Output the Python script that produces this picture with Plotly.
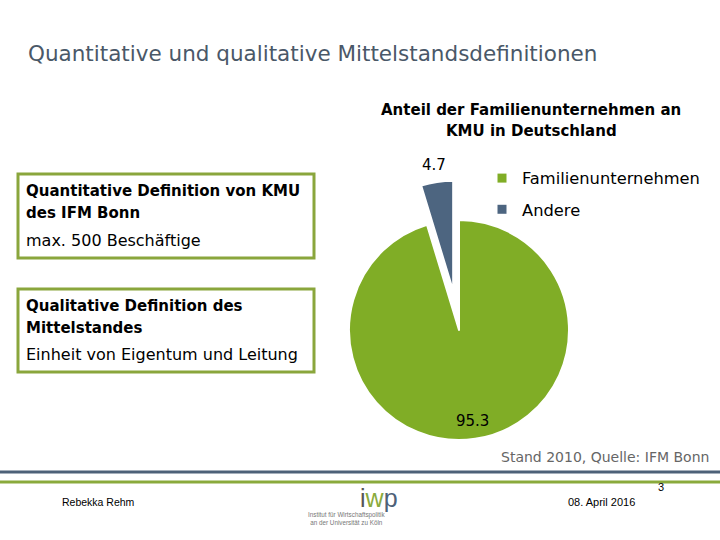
import math
import plotly.graph_objects as go

# Data
categories = ["Familienunternehmen", "Andere"]
values = [95.3, 4.7]
colors = ["#80ad26", "#4d6580"]

W, H = 720, 540

def px(x):
    return x / W

def py(y):
    return 1 - y / H

FONT = "DejaVu Sans"

fig = go.Figure()

# pie geometry: centre (459, 330), radius 110, pull 0.36
pull = 0.36
r = 110
cx, cy = 459, 330
half = r * (1 + pull)
pulls = [0, pull]
fig.add_trace(go.Pie(
    labels=categories,
    values=values,
    sort=False,
    direction="clockwise",
    rotation=0,
    pull=pulls,
    marker=dict(colors=colors, line=dict(color="white", width=2)),
    textinfo="none",
    domain=dict(x=[px(cx - half), px(cx + half)], y=[py(cy + half), py(cy - half)]),
    hoverinfo="label+value",
    showlegend=False,
))

# legend entries (one per category, spaced like the reference)
for i, (cat, col) in enumerate(zip(categories, colors)):
    fig.add_trace(go.Scatter(
        x=[None], y=[None], mode="markers", name=cat,
        marker=dict(symbol="square", size=9, color=col),
        legendgroup=f"g{i}", showlegend=True, hoverinfo="skip",
    ))

fig.update_layout(
    width=W, height=H,
    margin=dict(l=0, r=0, t=0, b=0),
    paper_bgcolor="white",
    plot_bgcolor="white",
    xaxis=dict(visible=False),
    yaxis=dict(visible=False),
    showlegend=True,
    legend=dict(
        x=px(482), y=py(161), xanchor="left", yanchor="top",
        font=dict(family=FONT, size=16.3, color="black"),
        bgcolor="rgba(0,0,0,0)",
        tracegroupgap=7,
        itemwidth=30,
    ),
)

shapes = []
# definition boxes
shapes.append(dict(type="rect", xref="paper", yref="paper",
                   x0=px(18), x1=px(314), y0=py(258), y1=py(174),
                   line=dict(color="#8aa63c", width=3)))
shapes.append(dict(type="rect", xref="paper", yref="paper",
                   x0=px(18), x1=px(314), y0=py(372), y1=py(289),
                   line=dict(color="#8aa63c", width=3)))
# footer lines
shapes.append(dict(type="line", xref="paper", yref="paper",
                   x0=0, x1=1, y0=py(472), y1=py(472),
                   line=dict(color="#4d6178", width=3)))
shapes.append(dict(type="line", xref="paper", yref="paper",
                   x0=0, x1=1, y0=py(482), y1=py(482),
                   line=dict(color="#8aaa3c", width=3)))
fig.update_layout(shapes=shapes)

ann = []
def text(x, y, s, size, color="black", bold=False, anchor="left", yanchor="middle", family=FONT):
    ann.append(dict(x=px(x), y=py(y), xref="paper", yref="paper", text=s,
                    showarrow=False, xanchor=anchor, yanchor=yanchor,
                    font=dict(family=family, size=size, color=color,
                              weight="bold" if bold else "normal")))

# slice value labels, placed from the data (mid-angle of each slice)
total = sum(values)
start = 0.0
label_radius = [0.84 * r, None]
for i, v in enumerate(values):
    frac = v / total
    mid = (start + frac / 2) * 2 * math.pi  # clockwise from 12 o'clock
    start += frac
    rr = label_radius[i] if label_radius[i] is not None else (1 + pulls[i]) * r + 17
    lx = cx + rr * math.sin(mid)
    ly = cy - rr * math.cos(mid)
    text(lx, ly, f"{v}", 15, anchor="center")

text(26, 54, "Quantitative und qualitative Mittelstandsdefinitionen", 21.5, color="#4a5868")
text(531, 110, "Anteil der Familienunternehmen an", 15, bold=True, anchor="center")
text(531, 131, "KMU in Deutschland", 15, bold=True, anchor="center")

text(24, 191, "Quantitative Definition von KMU", 15, bold=True)
text(24, 213, "des IFM Bonn", 15, bold=True)
text(24, 240, "max. 500 Beschäftige", 16)

text(24, 306, "Qualitative Definition des", 15, bold=True)
text(24, 328, "Mittelstandes", 15, bold=True)
text(24, 354, "Einheit von Eigentum und Leitung", 16)

text(711, 457, "Stand 2010, Quelle: IFM Bonn", 14, color="#666666", anchor="right")

text(60, 502, "Rebekka Rehm", 10.5, family="Liberation Sans")
text(566, 502, "08. April 2016", 11, family="Liberation Sans")
text(666, 487, "3", 11, family="Liberation Sans", anchor="right")
text(379, 514, "<span style='color:#555555'>i</span><span style='color:#8aaa3c'>w</span><span style='color:#4d6178'>p</span>", 25, family="Liberation Sans", anchor="center", yanchor="bottom")
text(346, 509, "Institut für Wirtschaftspolitik<br>an der Universität zu Köln", 6.3, color="#777777", family="Liberation Sans", anchor="center", yanchor="top")

fig.update_layout(annotations=ann)

fig.write_html("out.html", config={"displayModeBar": False},
               post_script="document.body.style.margin='0';document.body.style.overflow='hidden';")
